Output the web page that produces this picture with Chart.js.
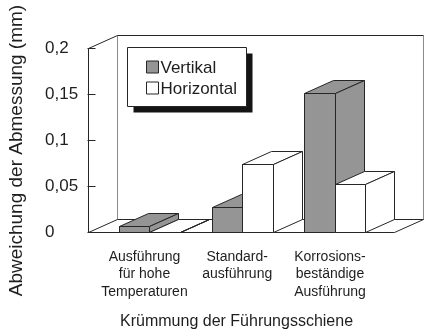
<!DOCTYPE html>
<html>
<head>
<meta charset="utf-8">
<script src="https://cdn.jsdelivr.net/npm/chart.js@4"></script>
<style>
  html, body { margin: 0; padding: 0; background: #ffffff; }
  #wrap { width: 424px; height: 331px; }
</style>
</head>
<body>
<div id="wrap"><canvas id="c" width="424" height="331"></canvas></div>
<script>
// Categories (multi-line axis labels), series and tick labels
const categories = [
  ["Ausführung", "für hohe", "Temperaturen"],
  ["Standard-", "ausführung"],
  ["Korrosions-", "beständige", "Ausführung"]
];
const seriesNames = ["Vertikal", "Horizontal"];
const vertikal = [0.007, 0.027, 0.151];
const horizontal = [0, 0.074, 0.052];
const yTicks = [0, 0.05, 0.1, 0.15, 0.2];
const yTickLabels = ["0", "0,05", "0,1", "0,15", "0,2"];
const xTitle = "Krümmung der Führungsschiene";
const yTitle = "Abweichung der Abmessung (mm)";

// Styling
const FONT = "'Liberation Sans', Arial, Helvetica, sans-serif";
const INK = '#262626';
const WALL_EDGE = '#8c8c8c';
const FILLS = ['#959595', '#ffffff'];
const DX = 29, DY = -13;        // depth offset of the 3D projection
const NBSP = '\u00a0';

Chart.defaults.font.family = FONT;
Chart.defaults.color = '#1e1e1e';

const snap = v => Math.round(v) + 0.5;

function poly(ctx, pts, fill, stroke) {
  ctx.beginPath();
  pts.forEach(([px, py], k) => k ? ctx.lineTo(px, py) : ctx.moveTo(px, py));
  ctx.closePath();
  if (fill) { ctx.fillStyle = fill; ctx.fill(); }
  if (stroke) { ctx.strokeStyle = stroke; ctx.stroke(); }
}

function line(ctx, x1, y1, x2, y2, color) {
  ctx.beginPath();
  ctx.moveTo(x1, y1);
  ctx.lineTo(x2, y2);
  ctx.strokeStyle = color;
  ctx.stroke();
}

// Box with front, top and right side faces
function prism(ctx, l, r, t, b, fill) {
  poly(ctx, [[l, t], [r, t], [r, b], [l, b]], fill, INK);
  poly(ctx, [[l, t], [r, t], [r + DX, t + DY], [l + DX, t + DY]], fill, INK);
  poly(ctx, [[r, t], [r + DX, t + DY], [r + DX, b + DY], [r, b]], fill, INK);
}

const columns3d = {
  id: 'columns3d',
  beforeDatasetsDraw(chart) {
    const { ctx, chartArea: a } = chart;
    const L = snap(a.left), R = snap(a.right), T = snap(a.top), B = snap(a.bottom);
    ctx.save();
    ctx.lineWidth = 1;
    ctx.lineJoin = 'miter';

    // back wall
    poly(ctx, [[L + DX, T + DY], [R + DX, T + DY], [R + DX, B + DY], [L + DX, B + DY]], '#ffffff', null);
    line(ctx, L + DX, T + DY, L + DX, B + DY, WALL_EDGE);
    line(ctx, R + DX, T + DY, R + DX, B + DY, WALL_EDGE);
    line(ctx, L + DX, T + DY, R + DX, T + DY, INK);
    line(ctx, L, T, L + DX, T + DY, INK);

    // floor
    poly(ctx, [[L, B], [R, B], [R + DX, B + DY], [L + DX, B + DY]], '#ffffff', INK);

    // columns, painted left to right, front series first
    const metas = chart.data.datasets.map((d, i) => chart.getDatasetMeta(i));
    for (let c = 0; c < categories.length; c++) {
      metas.forEach((meta, s) => {
        const el = meta.data[c];
        if (!el) return;
        const { x, y, base, width } = el.getProps(['x', 'y', 'base', 'width'], true);
        prism(ctx, snap(x - width / 2), snap(x + width / 2), snap(y), snap(base), FILLS[s]);
      });
    }

    // tick marks on the value axis, pointing inward
    const ys = chart.scales.y;
    ys.ticks.forEach(t => {
      const py = snap(ys.getPixelForValue(t.value));
      line(ctx, L - 1, py, L + 7, py, INK);
    });
    ctx.restore();
    return false;
  },
  afterDraw(chart) {
    const { ctx, chartArea: a } = chart;
    const bx = Math.round(a.left + 39) + 0.5, by = Math.round(a.top - 1) + 0.5;
    const bw = 119, bh = 59;
    ctx.save();
    ctx.lineWidth = 1;
    // shadow
    ctx.fillStyle = '#141414';
    ctx.fillRect(bx + 6, by + 6, bw, bh);
    // box
    poly(ctx, [[bx, by], [bx + bw, by], [bx + bw, by + bh], [bx, by + bh]], '#ffffff', INK);
    ctx.font = '17px ' + FONT;
    ctx.textBaseline = 'middle';
    ctx.textAlign = 'left';
    seriesNames.forEach((name, i) => {
      const cy = by + 19.5 + i * 21;
      poly(ctx, [[bx + 19, cy - 6], [bx + 31, cy - 6], [bx + 31, cy + 6], [bx + 19, cy + 6]], FILLS[i], INK);
      ctx.fillStyle = '#1e1e1e';
      ctx.fillText(name, bx + 33, cy + 1);
    });
    ctx.restore();
  }
};

new Chart(document.getElementById('c'), {
  type: 'bar',
  data: {
    datasets: [
      { label: seriesNames[0], data: vertikal.map((v, i) => ({ x: i, y: v })), backgroundColor: FILLS[0], barThickness: 30.5 },
      { label: seriesNames[1], data: horizontal.map((v, i) => ({ x: i, y: v })), backgroundColor: FILLS[1], barThickness: 30.5 }
    ]
  },
  options: {
    responsive: false,
    animation: false,
    layout: { padding: { top: 48, right: 30, left: 45, bottom: 0 } },
    plugins: { legend: { display: false }, tooltip: { enabled: false } },
    scales: {
      x: {
        type: 'linear',
        offset: false,
        bounds: 'data',
        min: -0.663,
        max: 2.637,
        grid: { display: false, drawTicks: false },
        border: { display: false },
        afterBuildTicks: s => { s.ticks = categories.map((_, i) => ({ value: i })); },
        afterFit: s => { s.height = 99; },
        ticks: {
          callback: v => categories[v],
          autoSkip: false,
          maxRotation: 0,
          padding: 16,
          labelOffset: -5,
          font: { size: 14, lineHeight: 1.25 }
        },
        title: {
          display: true,
          text: xTitle + NBSP + NBSP,
          font: { size: 16 },
          padding: { top: 0, bottom: 0 }
        }
      },
      y: {
        min: 0,
        max: 0.2,
        grid: { display: false, drawTicks: false },
        border: { display: true, color: INK, width: 1 },
        afterBuildTicks: s => { s.ticks = yTicks.map(v => ({ value: v })); },
        afterFit: s => { s.width = 43; },
        ticks: {
          callback: (v, i) => yTickLabels[i],
          crossAlign: 'far',
          padding: 8,
          font: { size: 17 }
        },
        title: {
          display: true,
          text: yTitle + NBSP.repeat(4),
          font: { size: 19 },
          padding: { top: -40, bottom: 0 }
        }
      }
    }
  },
  plugins: [columns3d]
});
</script>
</body>
</html>
